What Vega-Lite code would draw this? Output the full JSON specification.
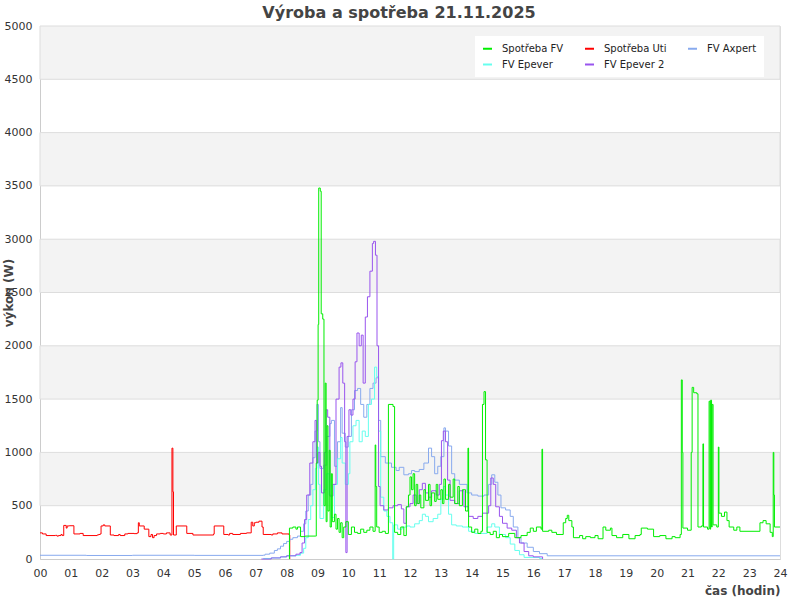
{
  "$schema": "https://vega.github.io/schema/vega-lite/v6.json",
  "width": 740,
  "height": 533,
  "autosize": {"type": "none"},
  "padding": {"left": 40, "top": 26, "right": 20, "bottom": 41},
  "background": "white",
  "title": {"text": "Výroba a spotřeba 21.11.2025", "anchor": "middle", "dx": -11, "offset": -1, "font": "DejaVu Sans", "fontSize": 16, "fontWeight": "bold", "color": "#444444"},
  "config": {
    "view": {"stroke": "#dddddd"},
    "font": "DejaVu Sans"
  },
  "datasets": {
    "bands": [
      {"lo": 500, "hi": 1000}, {"lo": 1500, "hi": 2000}, {"lo": 2500, "hi": 3000}, {"lo": 3500, "hi": 4000}, {"lo": 4500, "hi": 5000}
    ],
    "uti": [
      {"h":0,"v":245},{"h":0.08,"v":235},{"h":0.2,"v":220},{"h":0.5,"v":222},{"h":0.55,"v":215},{"h":0.6,"v":220},{"h":0.68,"v":230},{"h":0.72,"v":220},{"h":0.77,"v":315},{"h":0.85,"v":290},{"h":0.88,"v":310},{"h":0.95,"v":312},{"h":1.1,"v":235},{"h":1.3,"v":240},{"h":1.4,"v":220},{"h":1.85,"v":225},{"h":1.9,"v":230},{"h":1.95,"v":235},{"h":1.98,"v":310},{"h":2.05,"v":320},{"h":2.1,"v":310},{"h":2.28,"v":225},{"h":2.4,"v":220},{"h":2.55,"v":230},{"h":2.6,"v":220},{"h":2.75,"v":235},{"h":2.85,"v":240},{"h":3.05,"v":238},{"h":3.15,"v":245},{"h":3.19,"v":340},{"h":3.22,"v":310},{"h":3.38,"v":280},{"h":3.53,"v":210},{"h":3.6,"v":230},{"h":3.65,"v":200},{"h":3.7,"v":220},{"h":3.78,"v":235},{"h":3.9,"v":240},{"h":4.0,"v":235},{"h":4.1,"v":245},{"h":4.22,"v":225},{"h":4.28,"v":1040},{"h":4.31,"v":630},{"h":4.33,"v":225},{"h":4.42,"v":310},{"h":4.76,"v":240},{"h":4.96,"v":225},{"h":5.63,"v":235},{"h":5.65,"v":310},{"h":5.96,"v":230},{"h":6.1,"v":225},{"h":6.15,"v":240},{"h":6.25,"v":230},{"h":6.5,"v":240},{"h":6.7,"v":245},{"h":6.85,"v":345},{"h":6.9,"v":310},{"h":6.95,"v":340},{"h":7.0,"v":345},{"h":7.1,"v":355},{"h":7.2,"v":300},{"h":7.24,"v":230},{"h":7.5,"v":225},{"h":7.55,"v":235},{"h":7.7,"v":245},{"h":7.85,"v":235},{"h":8.08,"v":225},{"h":8.1,"v":0}
    ],
    "axpert": [
      {"h":0,"v":35},{"h":1.5,"v":33},{"h":3,"v":35},{"h":5,"v":34},{"h":7.24,"v":36},{"h":7.3,"v":45},{"h":7.45,"v":55},{"h":7.6,"v":80},{"h":7.7,"v":95},{"h":7.8,"v":120},{"h":7.9,"v":145},{"h":8.0,"v":165},{"h":8.1,"v":185},{"h":8.2,"v":200},{"h":8.35,"v":215},{"h":8.45,"v":260},{"h":8.55,"v":330},{"h":8.62,"v":450},{"h":8.7,"v":600},{"h":8.78,"v":700},{"h":8.85,"v":950},{"h":8.92,"v":1200},{"h":8.98,"v":1450},{"h":9.03,"v":1100},{"h":9.08,"v":850},{"h":9.2,"v":880},{"h":9.3,"v":1150},{"h":9.4,"v":1270},{"h":9.45,"v":1300},{"h":9.55,"v":870},{"h":9.65,"v":1100},{"h":9.75,"v":1420},{"h":9.8,"v":1180},{"h":9.9,"v":1050},{"h":10.0,"v":1150},{"h":10.1,"v":1400},{"h":10.2,"v":1580},{"h":10.3,"v":1600},{"h":10.4,"v":1450},{"h":10.5,"v":1330},{"h":10.6,"v":1450},{"h":10.7,"v":1600},{"h":10.8,"v":1650},{"h":10.9,"v":1700},{"h":10.98,"v":1300},{"h":11.05,"v":960},{"h":11.2,"v":900},{"h":11.4,"v":860},{"h":11.55,"v":830},{"h":11.65,"v":860},{"h":11.8,"v":790},{"h":11.95,"v":800},{"h":12.05,"v":830},{"h":12.15,"v":820},{"h":12.3,"v":840},{"h":12.45,"v":900},{"h":12.6,"v":1040},{"h":12.7,"v":960},{"h":12.8,"v":800},{"h":12.9,"v":870},{"h":13.0,"v":960},{"h":13.1,"v":1230},{"h":13.15,"v":1200},{"h":13.25,"v":1060},{"h":13.35,"v":800},{"h":13.45,"v":740},{"h":13.6,"v":700},{"h":13.85,"v":620},{"h":14.0,"v":600},{"h":14.2,"v":590},{"h":14.4,"v":600},{"h":14.55,"v":700},{"h":14.65,"v":790},{"h":14.75,"v":720},{"h":14.85,"v":600},{"h":14.95,"v":480},{"h":15.1,"v":460},{"h":15.25,"v":400},{"h":15.35,"v":300},{"h":15.5,"v":200},{"h":15.6,"v":150},{"h":15.8,"v":110},{"h":16.0,"v":70},{"h":16.2,"v":50},{"h":16.45,"v":30},{"h":24,"v":30}
    ],
    "epever": [
      {"h":7.24,"v":5},{"h":7.5,"v":10},{"h":7.8,"v":20},{"h":8.0,"v":30},{"h":8.3,"v":35},{"h":8.45,"v":55},{"h":8.55,"v":100},{"h":8.62,"v":200},{"h":8.7,"v":370},{"h":8.78,"v":500},{"h":8.85,"v":650},{"h":8.93,"v":850},{"h":8.98,"v":1050},{"h":9.03,"v":700},{"h":9.08,"v":380},{"h":9.2,"v":650},{"h":9.3,"v":800},{"h":9.38,"v":600},{"h":9.45,"v":390},{"h":9.55,"v":700},{"h":9.65,"v":940},{"h":9.75,"v":1140},{"h":9.8,"v":900},{"h":9.9,"v":700},{"h":10.0,"v":800},{"h":10.05,"v":1100},{"h":10.15,"v":1250},{"h":10.25,"v":1300},{"h":10.35,"v":1100},{"h":10.45,"v":1200},{"h":10.55,"v":1150},{"h":10.65,"v":1450},{"h":10.75,"v":1500},{"h":10.85,"v":1800},{"h":10.92,"v":1710},{"h":10.98,"v":1200},{"h":11.05,"v":580},{"h":11.15,"v":450},{"h":11.25,"v":400},{"h":11.35,"v":340},{"h":11.44,"v":0},{"h":11.47,"v":320},{"h":11.6,"v":280},{"h":11.75,"v":300},{"h":11.9,"v":310},{"h":12.0,"v":300},{"h":12.15,"v":330},{"h":12.3,"v":360},{"h":12.4,"v":420},{"h":12.5,"v":400},{"h":12.6,"v":350},{"h":12.75,"v":380},{"h":12.9,"v":420},{"h":13.0,"v":560},{"h":13.08,"v":680},{"h":13.15,"v":600},{"h":13.25,"v":420},{"h":13.35,"v":320},{"h":13.5,"v":310},{"h":13.7,"v":300},{"h":13.9,"v":260},{"h":14.1,"v":240},{"h":14.3,"v":240},{"h":14.5,"v":300},{"h":14.65,"v":330},{"h":14.75,"v":300},{"h":14.9,"v":230},{"h":15.1,"v":200},{"h":15.25,"v":140},{"h":15.4,"v":80},{"h":15.55,"v":40},{"h":15.7,"v":15},{"h":16.2,"v":5},{"h":16.3,"v":5}
    ],
    "epever2": [
      {"h":7.18,"v":0},{"h":7.5,"v":10},{"h":7.8,"v":20},{"h":8.0,"v":30},{"h":8.3,"v":45},{"h":8.43,"v":60},{"h":8.5,"v":150},{"h":8.58,"v":370},{"h":8.65,"v":600},{"h":8.75,"v":900},{"h":8.85,"v":1100},{"h":8.92,"v":1300},{"h":8.97,"v":900},{"h":9.02,"v":1000},{"h":9.08,"v":870},{"h":9.13,"v":620},{"h":9.22,"v":1000},{"h":9.28,"v":1400},{"h":9.33,"v":1330},{"h":9.4,"v":590},{"h":9.5,"v":700},{"h":9.6,"v":1500},{"h":9.7,"v":1800},{"h":9.76,"v":1840},{"h":9.82,"v":1650},{"h":9.88,"v":1100},{"h":9.92,"v":60},{"h":9.96,"v":1150},{"h":10.02,"v":1400},{"h":10.08,"v":1350},{"h":10.15,"v":1500},{"h":10.22,"v":1850},{"h":10.28,"v":2120},{"h":10.35,"v":2000},{"h":10.42,"v":2100},{"h":10.48,"v":1650},{"h":10.55,"v":2270},{"h":10.62,"v":2460},{"h":10.7,"v":2700},{"h":10.78,"v":2960},{"h":10.82,"v":2980},{"h":10.88,"v":2850},{"h":10.93,"v":2000},{"h":10.98,"v":680},{"h":11.03,"v":500},{"h":11.15,"v":460},{"h":11.3,"v":480},{"h":11.45,"v":500},{"h":11.6,"v":510},{"h":11.72,"v":470},{"h":11.8,"v":335},{"h":11.88,"v":490},{"h":12.0,"v":520},{"h":12.1,"v":600},{"h":12.2,"v":520},{"h":12.3,"v":650},{"h":12.4,"v":710},{"h":12.5,"v":620},{"h":12.6,"v":580},{"h":12.7,"v":640},{"h":12.85,"v":600},{"h":12.95,"v":700},{"h":13.02,"v":1110},{"h":13.08,"v":1200},{"h":13.15,"v":1100},{"h":13.22,"v":740},{"h":13.3,"v":550},{"h":13.45,"v":520},{"h":13.6,"v":640},{"h":13.75,"v":490},{"h":13.9,"v":400},{"h":14.05,"v":380},{"h":14.2,"v":400},{"h":14.35,"v":430},{"h":14.55,"v":500},{"h":14.62,"v":760},{"h":14.7,"v":700},{"h":14.78,"v":490},{"h":14.9,"v":400},{"h":15.0,"v":335},{"h":15.15,"v":290},{"h":15.3,"v":270},{"h":15.45,"v":200},{"h":15.55,"v":150},{"h":15.7,"v":70},{"h":15.85,"v":30},{"h":16.0,"v":20},{"h":16.3,"v":0}
    ],
    "fv": [
      {"h":8.08,"v":0},{"h":8.09,"v":290},{"h":8.2,"v":300},{"h":8.3,"v":280},{"h":8.35,"v":300},{"h":8.45,"v":210},{"h":8.6,"v":215},{"h":8.94,"v":215},{"h":8.96,"v":900},{"h":8.99,"v":1490},{"h":9.02,"v":2200},{"h":9.04,"v":3480},{"h":9.09,"v":3450},{"h":9.12,"v":2300},{"h":9.17,"v":2250},{"h":9.21,"v":500},{"h":9.25,"v":1650},{"h":9.28,"v":350},{"h":9.31,"v":1250},{"h":9.34,"v":450},{"h":9.38,"v":1020},{"h":9.41,"v":300},{"h":9.45,"v":800},{"h":9.48,"v":350},{"h":9.55,"v":420},{"h":9.6,"v":280},{"h":9.65,"v":380},{"h":9.7,"v":250},{"h":9.75,"v":340},{"h":9.8,"v":200},{"h":9.85,"v":300},{"h":9.92,"v":350},{"h":10.0,"v":230},{"h":10.1,"v":300},{"h":10.2,"v":250},{"h":10.3,"v":240},{"h":10.4,"v":280},{"h":10.5,"v":250},{"h":10.6,"v":270},{"h":10.7,"v":300},{"h":10.8,"v":260},{"h":10.87,"v":1070},{"h":10.89,"v":680},{"h":10.92,"v":300},{"h":11.0,"v":250},{"h":11.1,"v":260},{"h":11.2,"v":240},{"h":11.3,"v":1450},{"h":11.45,"v":1430},{"h":11.5,"v":250},{"h":11.6,"v":230},{"h":11.7,"v":300},{"h":11.8,"v":220},{"h":11.88,"v":490},{"h":11.95,"v":600},{"h":12.0,"v":770},{"h":12.05,"v":650},{"h":12.1,"v":800},{"h":12.15,"v":500},{"h":12.2,"v":700},{"h":12.25,"v":520},{"h":12.3,"v":600},{"h":12.35,"v":480},{"h":12.45,"v":650},{"h":12.5,"v":550},{"h":12.6,"v":700},{"h":12.65,"v":500},{"h":12.7,"v":620},{"h":12.8,"v":540},{"h":12.85,"v":700},{"h":12.9,"v":560},{"h":13.0,"v":650},{"h":13.05,"v":520},{"h":13.1,"v":750},{"h":13.15,"v":560},{"h":13.25,"v":700},{"h":13.3,"v":580},{"h":13.4,"v":750},{"h":13.45,"v":520},{"h":13.55,"v":680},{"h":13.6,"v":500},{"h":13.7,"v":650},{"h":13.8,"v":450},{"h":13.88,"v":1040},{"h":13.9,"v":300},{"h":14.0,"v":250},{"h":14.1,"v":280},{"h":14.2,"v":240},{"h":14.3,"v":260},{"h":14.35,"v":1450},{"h":14.4,"v":1570},{"h":14.45,"v":930},{"h":14.5,"v":250},{"h":14.6,"v":230},{"h":14.7,"v":260},{"h":14.8,"v":200},{"h":14.9,"v":230},{"h":15.0,"v":210},{"h":15.2,"v":240},{"h":15.4,"v":200},{"h":15.6,"v":220},{"h":15.8,"v":250},{"h":15.9,"v":290},{"h":16.0,"v":260},{"h":16.1,"v":300},{"h":16.25,"v":280},{"h":16.28,"v":1030},{"h":16.3,"v":260},{"h":16.5,"v":270},{"h":16.6,"v":250},{"h":16.75,"v":230},{"h":16.97,"v":340},{"h":17.05,"v":380},{"h":17.1,"v":410},{"h":17.15,"v":360},{"h":17.25,"v":300},{"h":17.3,"v":200},{"h":17.5,"v":220},{"h":17.6,"v":190},{"h":17.7,"v":210},{"h":17.85,"v":200},{"h":18.0,"v":220},{"h":18.1,"v":190},{"h":18.26,"v":300},{"h":18.35,"v":270},{"h":18.5,"v":290},{"h":18.55,"v":220},{"h":18.7,"v":200},{"h":18.9,"v":230},{"h":19.1,"v":190},{"h":19.3,"v":220},{"h":19.46,"v":230},{"h":19.5,"v":290},{"h":19.7,"v":280},{"h":19.9,"v":210},{"h":20.1,"v":220},{"h":20.3,"v":190},{"h":20.5,"v":210},{"h":20.6,"v":200},{"h":20.76,"v":230},{"h":20.8,"v":1680},{"h":20.83,"v":1000},{"h":20.85,"v":290},{"h":21.0,"v":270},{"h":21.12,"v":1000},{"h":21.15,"v":1610},{"h":21.2,"v":1560},{"h":21.3,"v":1550},{"h":21.34,"v":300},{"h":21.45,"v":310},{"h":21.5,"v":1080},{"h":21.52,"v":300},{"h":21.65,"v":280},{"h":21.7,"v":1480},{"h":21.73,"v":280},{"h":21.75,"v":1490},{"h":21.78,"v":300},{"h":21.8,"v":1450},{"h":21.83,"v":320},{"h":21.95,"v":300},{"h":22.0,"v":1050},{"h":22.02,"v":430},{"h":22.1,"v":400},{"h":22.2,"v":440},{"h":22.28,"v":360},{"h":22.35,"v":300},{"h":22.5,"v":270},{"h":22.6,"v":300},{"h":22.7,"v":260},{"h":23.35,"v":340},{"h":23.45,"v":360},{"h":23.55,"v":330},{"h":23.68,"v":250},{"h":23.75,"v":210},{"h":23.78,"v":1000},{"h":23.8,"v":600},{"h":23.82,"v":300},{"h":24,"v":300}
    ]
  },
  "layer": [
    {
      "data": {"name": "bands"},
      "mark": {"type": "rect", "fill": "#f3f3f3", "stroke": "#dddddd", "strokeWidth": 1},
      "encoding": {
        "y": {"field": "lo", "type": "quantitative", "scale": {"domain": [0, 5000], "nice": false},
          "axis": {"values": [0,500,1000,1500,2000,2500,3000,3500,4000,4500,5000], "format": "d", "ticks": false, "grid": false, "domainColor": "#cccccc", "labelPadding": 8, "labelFont": "DejaVu Sans", "labelFontSize": 11, "labelColor": "#333333", "labelFlush": false, "labelOverlap": false,
            "title": "výkon (W)", "titleX": -32, "titleY": 266.5, "titleAngle": -90, "titleAlign": "center", "titleBaseline": "middle", "titleFont": "DejaVu Sans", "titleFontSize": 12, "titleFontWeight": "bold", "titleColor": "#444444"}},
        "y2": {"field": "hi"}
      }
    },
    {
      "encoding": {
        "x": {"field": "h", "type": "quantitative", "scale": {"domain": [0, 24], "nice": false, "zero": false},
          "axis": {"values": [0,1,2,3,4,5,6,7,8,9,10,11,12,13,14,15,16,17,18,19,20,21,22,23,24], "labelExpr": "datum.value < 10 ? '0' + datum.value : '' + datum.value", "ticks": false, "grid": false, "domainColor": "#cccccc", "labelPadding": 8, "labelFont": "DejaVu Sans", "labelFontSize": 11, "labelColor": "#333333", "labelFlush": false, "labelOverlap": false,
            "title": "čas (hodin)", "titleX": 740, "titleY": 31, "titleAlign": "right", "titleBaseline": "middle", "titleFont": "DejaVu Sans", "titleFontSize": 12, "titleFontWeight": "bold", "titleColor": "#444444"}},
        "y": {"field": "v", "type": "quantitative", "scale": {"domain": [0, 5000], "nice": false},
          "axis": {"values": [0,500,1000,1500,2000,2500,3000,3500,4000,4500,5000], "format": "d", "ticks": false, "grid": false, "domainColor": "#cccccc", "labelPadding": 8, "labelFont": "DejaVu Sans", "labelFontSize": 11, "labelColor": "#333333", "labelFlush": false, "labelOverlap": false,
            "title": "výkon (W)", "titleX": -32, "titleY": 266.5, "titleAngle": -90, "titleAlign": "center", "titleBaseline": "middle", "titleFont": "DejaVu Sans", "titleFontSize": 12, "titleFontWeight": "bold", "titleColor": "#444444"}}
      },
      "layer": [
        {
          "data": {"name": "uti"},
          "mark": {"type": "line", "interpolate": "step-after", "strokeWidth": 1},
          "encoding": {
            "color": {"datum": "Spotřeba Uti", "type": "nominal",
              "scale": {"domain": ["Spotřeba FV", "Spotřeba Uti", "FV Axpert", "FV Epever", "FV Epever 2"], "range": ["#00ee00", "#ff0000", "#88aaee", "#66ffee", "#9955ee"]},
              "legend": {"title": null, "orient": "none", "legendX": 435, "legendY": 10, "direction": "horizontal", "columns": 3, "fillColor": "white", "padding": 7, "symbolType": "stroke", "symbolSize": 81, "symbolStrokeWidth": 2, "labelFont": "DejaVu Sans", "labelFontSize": 10, "labelColor": "#222222", "labelOffset": 9, "columnPadding": 17, "rowPadding": 5}}
          }
        },
        {
          "data": {"name": "axpert"},
          "mark": {"type": "line", "interpolate": "step-after", "strokeWidth": 1},
          "encoding": {"color": {"datum": "FV Axpert", "type": "nominal"}}
        },
        {
          "data": {"name": "epever"},
          "mark": {"type": "line", "interpolate": "step-after", "strokeWidth": 1},
          "encoding": {"color": {"datum": "FV Epever", "type": "nominal"}}
        },
        {
          "data": {"name": "epever2"},
          "mark": {"type": "line", "interpolate": "step-after", "strokeWidth": 1},
          "encoding": {"color": {"datum": "FV Epever 2", "type": "nominal"}}
        },
        {
          "data": {"name": "fv"},
          "mark": {"type": "line", "interpolate": "step-after", "strokeWidth": 1},
          "encoding": {"color": {"datum": "Spotřeba FV", "type": "nominal"}}
        }
      ]
    }
  ]
}
